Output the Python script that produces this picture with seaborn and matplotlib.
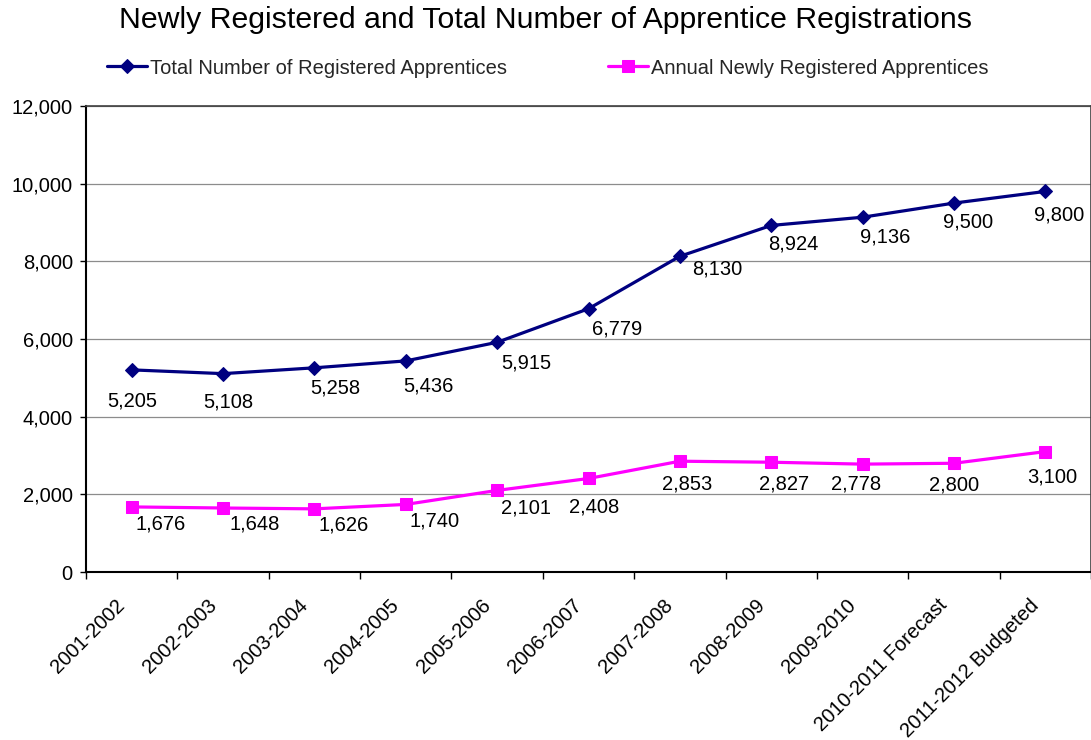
import pandas as pd
import matplotlib.pyplot as plt
import matplotlib.transforms as mtransforms
import seaborn as sns

sns.set_theme(style="white")
plt.rcParams['font.family'] = ['Liberation Sans', 'DejaVu Sans']

# Data
years = ['2001-2002', '2002-2003', '2003-2004', '2004-2005', '2005-2006',
         '2006-2007', '2007-2008', '2008-2009', '2009-2010',
         '2010-2011 Forecast', '2011-2012 Budgeted']
total_registered = [5205, 5108, 5258, 5436, 5915, 6779, 8130, 8924, 9136, 9500, 9800]
newly_registered = [1676, 1648, 1626, 1740, 2101, 2408, 2853, 2827, 2778, 2800, 3100]

total_name = 'Total Number of Registered Apprentices'
newly_name = 'Annual Newly Registered Apprentices'

# label offsets from the marker, in pixels (right, down)
total_offsets = [(1, 31), (5, 28), (21, 20), (23, 25), (29, 21), (29, 20),
                 (37, 13), (22, 19), (23, 20), (14, 19), (14, 24)]
newly_offsets = [(29, 17), (32, 16), (29, 16), (29, 17), (29, 18), (6, 29),
                 (7, 23), (13, 22), (-7, 20), (0, 22), (7, 25)]

df = pd.DataFrame({'Year': years, 'Total': total_registered, 'Newly': newly_registered})

NAVY = '#000080'
MAGENTA = '#FF00FF'
FS = 14.5

fig = plt.figure(figsize=(10.91, 7.40), dpi=100)
ax = fig.add_axes([86 / 1091, 168 / 740, 1005 / 1091, 466 / 740])

sns.lineplot(data=df, x='Year', y='Total', ax=ax, color=NAVY, linewidth=2.3,
             marker='D', markersize=7.5, markeredgecolor=NAVY, label=total_name, sort=False)
sns.lineplot(data=df, x='Year', y='Newly', ax=ax, color=MAGENTA, linewidth=2.3,
             marker='s', markersize=8.5, markeredgecolor=MAGENTA, label=newly_name, sort=False)

# data labels
for i, (v, (dx, dy)) in enumerate(zip(total_registered, total_offsets)):
    ax.annotate(f'{v:,}', (i, v), xytext=(dx * 0.72, -dy * 0.72), textcoords='offset points',
                ha='center', va='center', fontsize=FS, color='black')
for i, (v, (dx, dy)) in enumerate(zip(newly_registered, newly_offsets)):
    ax.annotate(f'{v:,}', (i, v), xytext=(dx * 0.72, -dy * 0.72), textcoords='offset points',
                ha='center', va='center', fontsize=FS, color='black')

# axes
ax.set_xlim(-0.5, len(years) - 0.5)
ax.set_ylim(0, 12000)
ax.set_yticks(range(0, 12001, 2000))
ax.yaxis.set_major_formatter(plt.FuncFormatter(lambda x, p: f'{x:,.0f}'))
ax.set_xticks(range(len(years)))
ax.set_xticks([i - 0.5 for i in range(len(years) + 1)], minor=True)
ax.set_xticklabels(years, rotation=45, ha='right', va='top', fontsize=FS)
ax.set_xlabel('')
ax.set_ylabel('')
ax.grid(axis='y', color='#8c8c8c', linewidth=0.9)
ax.set_axisbelow(True)

ax.tick_params(axis='y', which='major', left=True, length=4.5, width=1, color='black',
               labelsize=FS, pad=5, labelcolor='black')
ax.tick_params(axis='x', which='major', bottom=False, length=0, pad=17, labelcolor='black')
ax.tick_params(axis='x', which='minor', bottom=True, length=5, width=1, color='black')

shift = mtransforms.ScaledTranslation(-3 / 100, 0, fig.dpi_scale_trans)
for lbl in ax.get_xticklabels():
    lbl.set_transform(lbl.get_transform() + shift)

for side in ['left', 'bottom']:
    ax.spines[side].set_color('black')
    ax.spines[side].set_linewidth(1.5)
for side in ['top', 'right']:
    ax.spines[side].set_color('#404040')
    ax.spines[side].set_linewidth(1.2)

# title and legend
fig.text(0.5, 1 - 20 / 740, 'Newly Registered and Total Number of Apprentice Registrations',
         ha='center', va='center', fontsize=21.8, color='black')

handles, labels = ax.get_legend_handles_labels()
ax.get_legend().remove()
fig.legend(handles, labels, loc='center', bbox_to_anchor=(548 / 1091, 1 - 68 / 740),
           ncol=2, frameon=False, fontsize=FS, handlelength=2.0, handletextpad=0.15,
           columnspacing=5.0, borderpad=0, borderaxespad=0)

fig.savefig('out.png', dpi=100, facecolor='white')
